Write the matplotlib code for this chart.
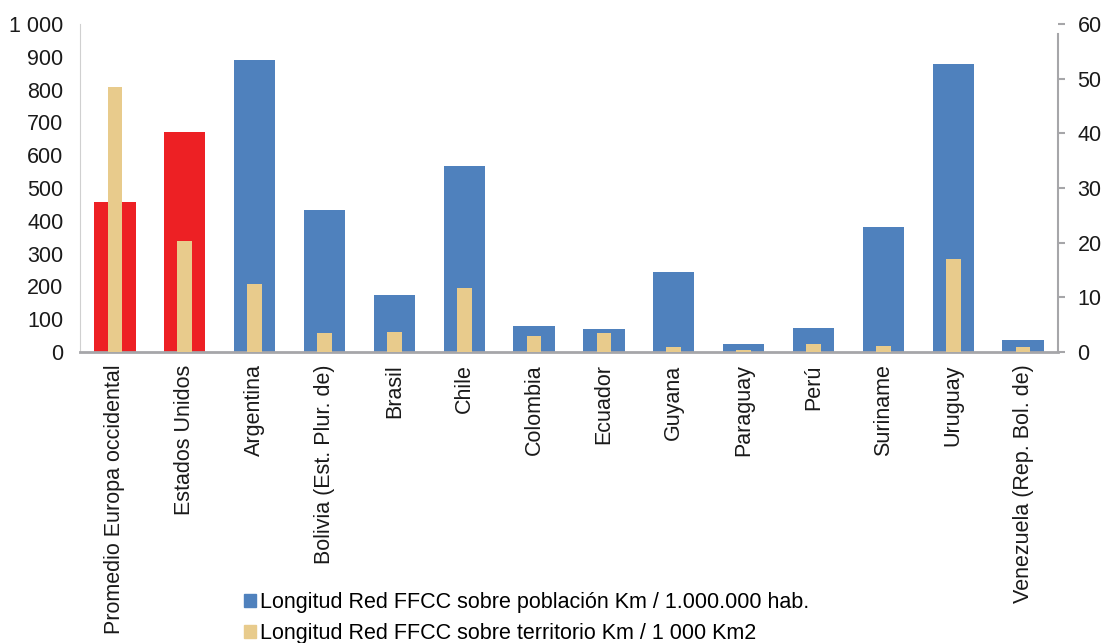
import numpy as np
import matplotlib
matplotlib.use("Agg")
import matplotlib.pyplot as plt
from matplotlib.patches import Patch

plt.rcParams["font.family"] = ["Liberation Sans", "DejaVu Sans"]

paises = ["Promedio Europa occidental", "Estados Unidos", "Argentina",
          "Bolivia (Est. Plur. de)", "Brasil", "Chile", "Colombia", "Ecuador",
          "Guyana", "Paraguay", "Perú", "Suriname", "Uruguay",
          "Venezuela (Rep. Bol. de)"]
km_poblacion = [457, 671, 890, 433, 174, 567, 79, 70, 244, 24, 73, 381, 878, 37]
km_territorio = [48.5, 20.3, 12.4, 3.5, 3.7, 11.7, 2.9, 3.5, 0.9, 0.4, 1.5, 1.1, 17.0, 0.9]
lbl_pob = "Longitud Red FFCC sobre población Km / 1.000.000 hab."
lbl_ter = "Longitud Red FFCC sobre territorio Km / 1 000 Km2"

BLUE = "#4F81BD"
RED = "#ED2024"
TAN = "#E8CB8C"
GRAY = "#A6A6A9"

fig = plt.figure(figsize=(11.04, 6.43), dpi=100)
ax = fig.add_axes([80 / 1104, 1 - 352 / 643, 978 / 1104, 328 / 643])
ax2 = ax.twinx()

x = np.arange(len(paises))
colores = [RED, RED] + [BLUE] * (len(paises) - 2)
ax.bar(x, km_poblacion, width=0.59, color=colores, zorder=2)
ax2.bar(x, km_territorio, width=0.21, color=TAN, zorder=3)

ax.set_xlim(-0.5, len(paises) - 0.5)
ax.set_ylim(0, 1000)
ax2.set_ylim(0, 60)
ax.set_yticks(range(0, 1001, 100))
ax.set_yticklabels([f"{v:,}".replace(",", " ") for v in range(0, 1001, 100)])
ax2.set_yticks(range(0, 61, 10))

ax.set_xticks(x)
ax.set_xticklabels(paises, rotation=90, va="top", ha="center")

for a in (ax, ax2):
    a.spines["top"].set_visible(False)
    a.tick_params(labelsize=15.5, colors="#1a1a1a")
ax.spines["right"].set_visible(False)
ax2.spines["left"].set_visible(False)
ax2.spines["bottom"].set_visible(False)
ax.spines["left"].set_color("#D0D0D0")
ax.spines["bottom"].set_color(GRAY)
ax.spines["bottom"].set_linewidth(2)
ax2.spines["right"].set_color(GRAY)
ax2.spines["right"].set_linewidth(1.5)
ax2.spines["right"].set_bounds(0, 58.2)
ax.tick_params(axis="y", length=0, pad=12)
ax.tick_params(axis="x", length=0, pad=9)
ax2.tick_params(axis="y", length=5, width=1.5, color=GRAY, pad=9)

handles = [Patch(color=BLUE, label=lbl_pob), Patch(color=TAN, label=lbl_ter)]
fig.legend(handles=handles, loc="upper left", bbox_to_anchor=(244 / 1104, 1 - 592 / 643),
           frameon=False, fontsize=15.5, handlelength=0.55, handleheight=0.55,
           handletextpad=0.2, labelspacing=0.45, borderaxespad=0, borderpad=0)

fig.savefig("out.png", dpi=100)
